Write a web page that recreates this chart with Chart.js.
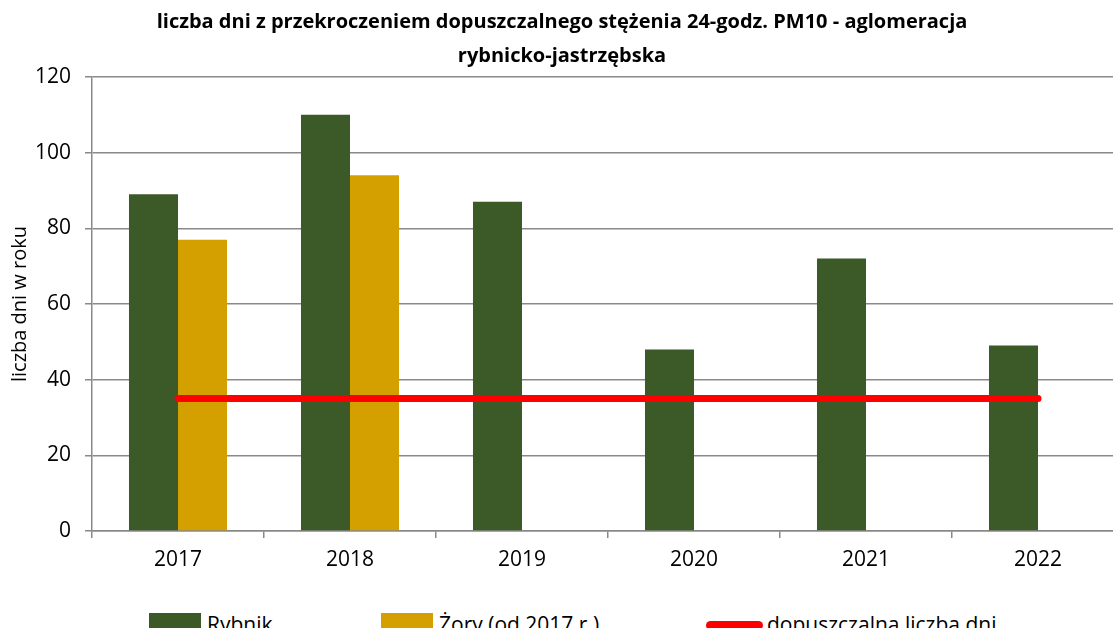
<!DOCTYPE html>
<html>
<head>
<meta charset="utf-8">
<script src="https://cdn.jsdelivr.net/npm/chart.js@4.4.1/dist/chart.umd.min.js"></script>
<style>
  html, body { margin: 0; padding: 0; background: #fff; overflow: hidden; }
  #wrap { position: relative; width: 1126px; height: 640px; }
  #legend { position: absolute; left: 149px; top: 610px; display: flex; font-family: 'Open Sans', sans-serif; font-size: 21px; color: #000; }
  .item { display: flex; align-items: flex-start; }
  .box { width: 52px; height: 24px; margin-top: 3px; margin-right: 6px; }
  .line { width: 57px; height: 9px; border-radius: 5px; margin-top: 11px; margin-right: 4px; }
</style>
</head>
<body>
<div id="wrap">
  <canvas id="pmChart" width="1126" height="600"></canvas>
  <div id="legend"></div>
</div>
<script>
const ctx_pm = document.querySelector('#pmChart').getContext('2d');

// dane
const years = ['2017', '2018', '2019', '2020', '2021', '2022'];
const rybnik = [89, 110, 87, 48, 72, 49];
const zory = [77, 94, null, null, null, null];
const limit = [35, 35, 35, 35, 35, 35];
const yTicks = [0, 20, 40, 60, 80, 100, 120];

const green = '#3b5a27';
const gold = '#d4a000';
const grid_color = '#898989';
const font_main = "'Open Sans', sans-serif";

const config_pm = {
    type: 'bar',
    data: {
        labels: years,
        datasets: [
            {
                label: 'Rybnik',
                data: rybnik,
                backgroundColor: green,
                categoryPercentage: 0.57,
                barPercentage: 1,
                order: 1,
            },
            {
                label: 'Żory (od 2017 r.)',
                data: zory,
                backgroundColor: gold,
                categoryPercentage: 0.57,
                barPercentage: 1,
                order: 1,
            },
            {
                type: 'line',
                label: 'dopuszczalna liczba dni',
                data: limit,
                borderColor: '#ff0000',
                backgroundColor: '#ff0000',
                borderWidth: 7,
                borderCapStyle: 'round',
                pointRadius: 0,
                order: 0,
            },
        ],
    },
    options: {
        responsive: false,
        animation: false,
        layout: { padding: { left: 0, right: 2, top: 0, bottom: 0 } },
        plugins: {
            legend: { display: false },
            tooltip: { enabled: false },
            title: {
                display: true,
                text: ['liczba dni z przekroczeniem dopuszczalnego stężenia 24-godz. PM10 - aglomeracja', 'rybnicko-jastrzębska'],
                color: '#000',
                font: { family: font_main, size: 20, weight: 'bold', lineHeight: 1.7 },
                padding: { top: 5, bottom: 4 },
            },
        },
        scales: {
            x: {
                grid: { offset: true, drawOnChartArea: false, drawTicks: true, tickLength: 7, color: grid_color, lineWidth: 1.5 },
                border: { color: grid_color, width: 1.5 },
                ticks: { color: '#000', font: { family: font_main, size: 21 }, padding: 9 },
                afterFit: (scale) => { scale.height = 69; },
            },
            y: {
                min: 0,
                max: 120,
                afterBuildTicks: (scale) => { scale.ticks = yTicks.map(v => ({ value: v })); },
                grid: { color: grid_color, lineWidth: 1.5, tickLength: 7 },
                border: { color: grid_color, width: 1.5 },
                ticks: { color: '#000', font: { family: font_main, size: 21 }, padding: 14 },
                title: {
                    display: true,
                    text: 'liczba dni w roku',
                    color: '#000',
                    font: { family: font_main, size: 20 },
                    padding: { top: 8, bottom: 0 },
                },
                afterFit: (scale) => { scale.width = 92; },
            },
        },
    },
};

const chart_pm = new Chart(ctx_pm, config_pm);

// legenda w HTML
const legend_div = document.querySelector('#legend');
const item_widths = [232, 325, null];
chart_pm.data.datasets.forEach((ds, i) => {
    const item = document.createElement('div');
    item.className = 'item';
    if (item_widths[i]) item.style.width = item_widths[i] + 'px';
    const mark = document.createElement('span');
    mark.className = ds.type === 'line' ? 'line' : 'box';
    mark.style.background = ds.type === 'line' ? ds.borderColor : ds.backgroundColor;
    const txt = document.createElement('span');
    txt.textContent = ds.label;
    item.appendChild(mark);
    item.appendChild(txt);
    legend_div.appendChild(item);
});
</script>
</body>
</html>
